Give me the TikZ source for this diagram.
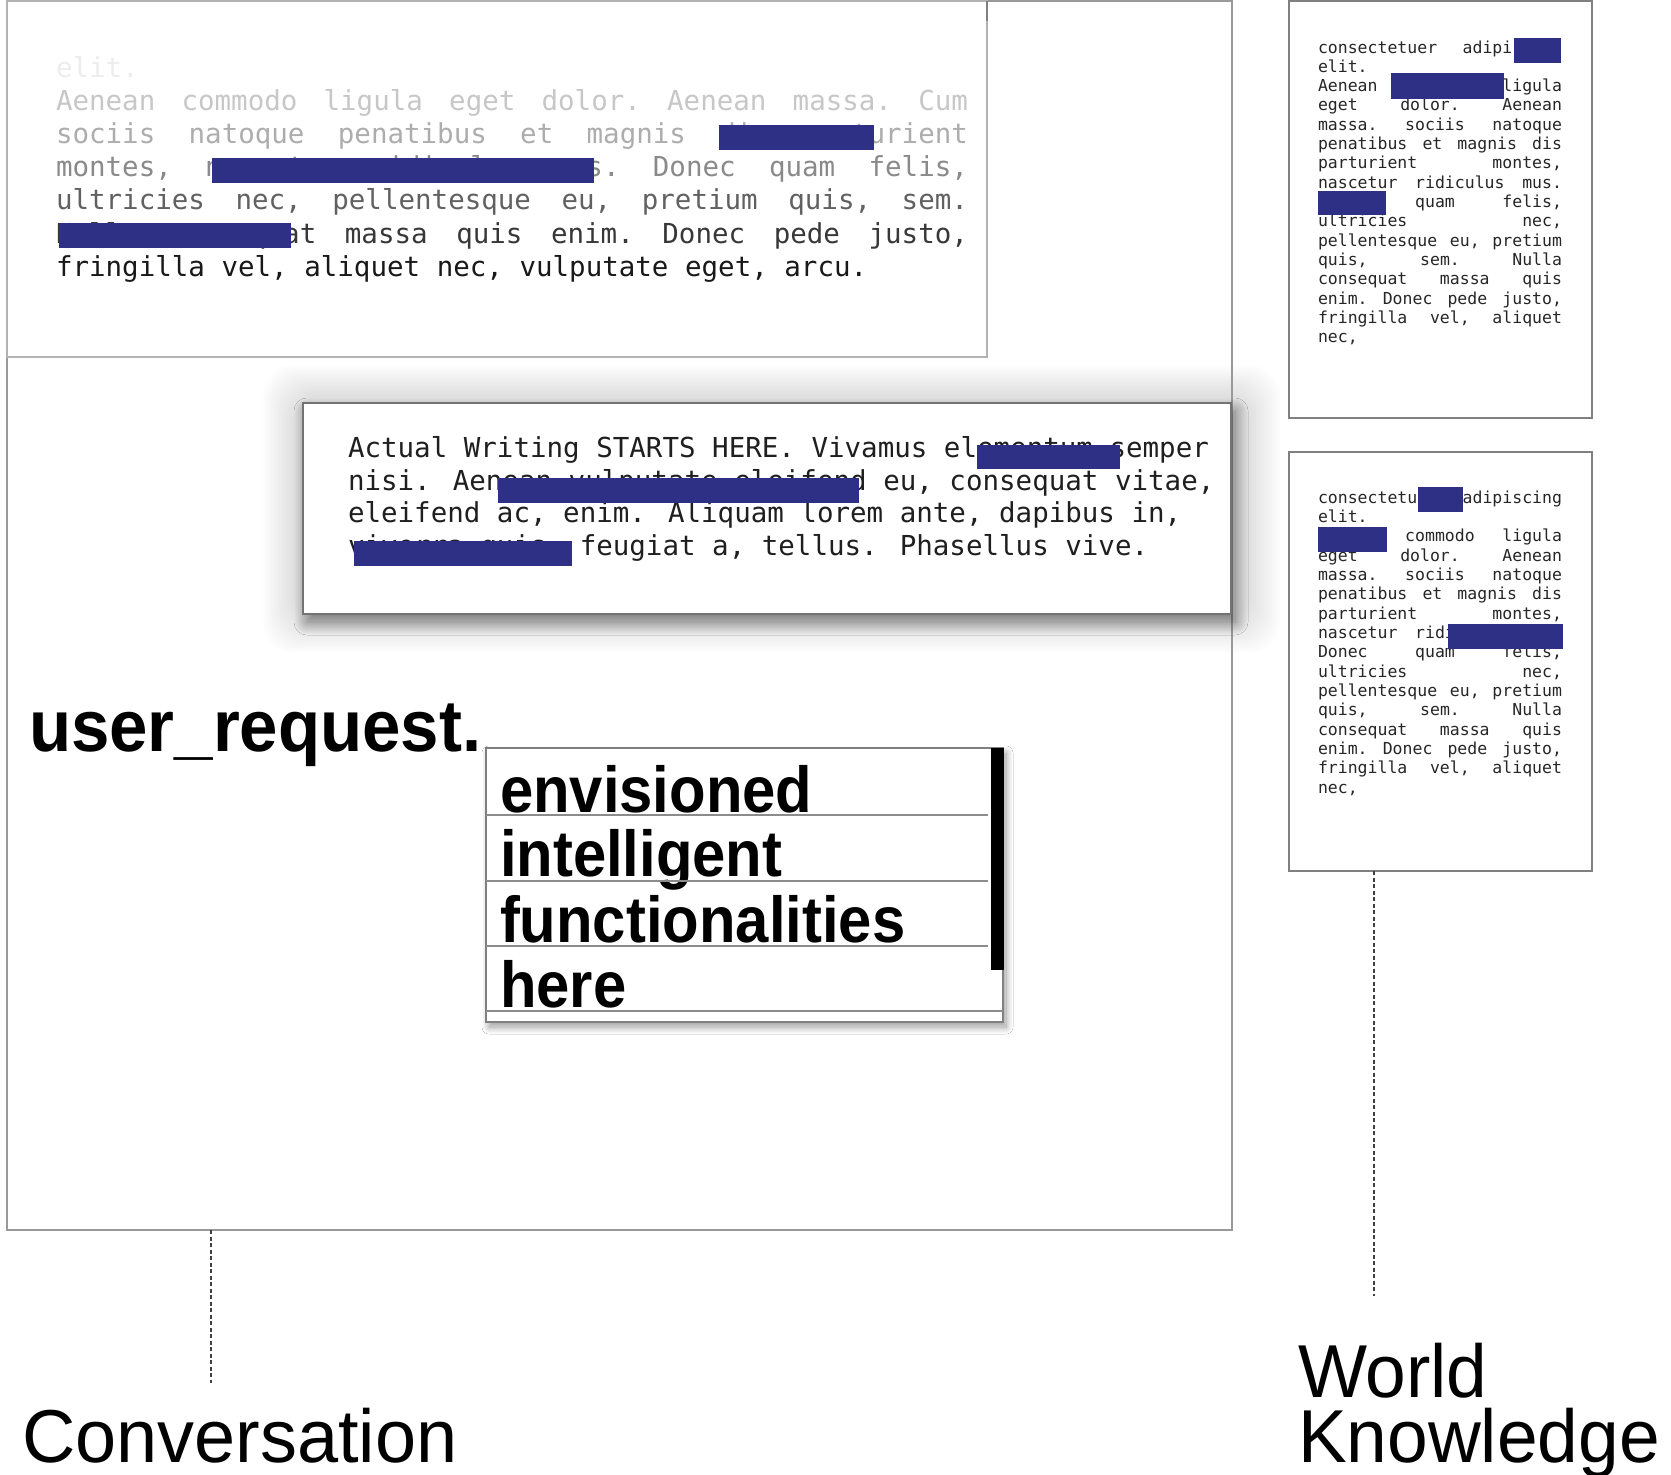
\documentclass[tikz,border=0pt]{standalone}
\usepackage{fontspec}
\usepackage{graphicx}
\usetikzlibrary{shadows.blur}

% Fonts
\newfontfamily\monofont{DejaVu Sans Mono}
\newfontfamily\labelfont[FakeStretch=0.985]{Liberation Sans}
\newfontfamily\wkfont[FakeStretch=0.975]{Liberation Sans}
\newfontfamily\reqfont[FakeStretch=0.945]{Liberation Sans}
\newfontfamily\itemfont[FakeStretch=0.92]{Liberation Sans}

\definecolor{redact}{RGB}{46,48,134}

% A line of text stretched to a given width (justified)
\newcommand\justline[2]{\hbox to #1{\frenchspacing\spaceskip=0.602em plus 1fil minus 0.2em\relax #2}}

% One knowledge document: 16 justified lines starting at baseline #2
\newcommand\docbody[2]{%
  \node[doctext] (#1-1)  at (1318,#2)          {\justline{244pt}{consectetuer adipiscing}};
  \node[doctext] (#1-2)  at (1318,#2+19.33)    {elit.};
  \node[doctext] (#1-3)  at (1318,#2+2*19.33)  {\justline{244pt}{Aenean commodo ligula}};
  \node[doctext] (#1-4)  at (1318,#2+3*19.33)  {\justline{244pt}{eget dolor. Aenean}};
  \node[doctext] (#1-5)  at (1318,#2+4*19.33)  {\justline{244pt}{massa. sociis natoque}};
  \node[doctext] (#1-6)  at (1318,#2+5*19.33)  {\justline{244pt}{penatibus et magnis dis}};
  \node[doctext] (#1-7)  at (1318,#2+6*19.33)  {\justline{244pt}{parturient montes,}};
  \node[doctext] (#1-8)  at (1318,#2+7*19.33)  {\justline{244pt}{nascetur ridiculus mus.}};
  \node[doctext] (#1-9)  at (1318,#2+8*19.33)  {\justline{244pt}{Donec quam felis,}};
  \node[doctext] (#1-10) at (1318,#2+9*19.33)  {\justline{244pt}{ultricies nec,}};
  \node[doctext] (#1-11) at (1318,#2+10*19.33) {\justline{244pt}{pellentesque eu, pretium}};
  \node[doctext] (#1-12) at (1318,#2+11*19.33) {\justline{244pt}{quis, sem. Nulla}};
  \node[doctext] (#1-13) at (1318,#2+12*19.33) {\justline{244pt}{consequat massa quis}};
  \node[doctext] (#1-14) at (1318,#2+13*19.33) {\justline{244pt}{enim. Donec pede justo,}};
  \node[doctext] (#1-15) at (1318,#2+14*19.33) {\justline{244pt}{fringilla vel, aliquet}};
  \node[doctext] (#1-16) at (1318,#2+15*19.33) {nec,};
}

\begin{document}
\begin{tikzpicture}[
  x=1pt, y=-1pt,
  txt/.style={anchor=base west, inner sep=0pt, outer sep=0pt},
  histtext/.style={txt, font=\monofont\fontsize{27.5}{33}\selectfont},
  writetext/.style={txt, text=black!88, font=\monofont\fontsize{27.5}{33}\selectfont},
  doctext/.style={txt, text=black!85, font=\monofont\fontsize{16.5}{19}\selectfont},
  itemtext/.style={txt, font=\itemfont\bfseries\fontsize{65}{70}\selectfont},
  caption/.style={txt, font=\labelfont\fontsize{75}{80}\selectfont},
  panel/.style={draw=black!40, line width=1.8pt, inner sep=0pt, outer sep=0pt, anchor=north west},
  docpanel/.style={draw=black!50, line width=1.8pt, fill=white, inner sep=0pt, outer sep=0pt, anchor=north west},
  bar/.style={fill=redact},
  rowsep/.style={draw=black!45, line width=1.8pt},
  leader/.style={draw=black!75, line width=1.3pt, dash pattern=on 4pt off 2.5pt},
  glow/.style={fill=black, opacity=0.006, rounded corners=30pt},
]
\useasboundingbox[fill=white] (0,0) rectangle (1671,1475);

% soft glow behind the writing box, built from stacked faint layers
\foreach \k in {0,...,15}
  \fill[glow] (263+2*\k,365+2*\k) rectangle (1280-2*\k,653-2*\k);

% conversation panel and the history area at its top
\node[panel, minimum width=1225pt, minimum height=1229pt] (conv) at (7,1) {};
\node[panel, draw=black!30, minimum width=980pt, minimum height=356pt] (history) at (7,1) {};
\draw[black!50, line width=2.2pt] (history.north east) -- ++(0,20);

% faded history text
\node[histtext, text=black!7]  (h0) at (56,77)  {elit.};
\node[histtext, text=black!22] (h1) at (56,110) {\justline{912pt}{Aenean commodo ligula eget dolor. Aenean massa. Cum}};
\node[histtext, text=black!32] (h2) at (56,143) {\justline{912pt}{sociis natoque penatibus et magnis dis parturient}};
\node[histtext, text=black!46] (h3) at (56,176) {\justline{912pt}{montes, nascetur ridiculus mus. Donec quam felis,}};
\node[histtext, text=black!62] (h4) at (56,209) {\justline{912pt}{ultricies nec, pellentesque eu, pretium quis, sem.}};
\node[histtext, text=black!78] (h5) at (56,243) {\justline{912pt}{Nulla consequat massa quis enim. Donec pede justo,}};
\node[histtext, text=black!90] (h6) at (56,276) {fringilla vel, aliquet nec, vulputate eget, arcu.};
\fill[bar] (719,125) rectangle (874,150);
\fill[bar] (212,158) rectangle (594,183);
\fill[bar] (59,223) rectangle (291,248);

% writing box
\node[docpanel, draw=black!55,
      blur shadow={shadow xshift=4pt, shadow yshift=-8pt, shadow blur radius=13pt, shadow opacity=50, shadow blur steps=30},
      minimum width=928pt, minimum height=211pt] (write) at (303,403) {};
\node[writetext] (w1) at (348,457) {Actual Writing STARTS HERE. Vivamus elementum semper};
\node[writetext] (w2) at (348,490) {nisi. Aenean vulputate eleifend eu, consequat vitae,};
\node[writetext] (w3) at (348,522.5) {eleifend ac, enim. Aliquam lorem ante, dapibus in,};
\node[writetext] (w4) at (348,555) {viverra quis, feugiat a, tellus. Phasellus vive.};
\fill[bar] (977,445) rectangle (1120,469);
\fill[bar] (498,478) rectangle (859,503);
\fill[bar] (354,541) rectangle (572,566);

% user request with suggestion list
\node[txt, font=\reqfont\bfseries\fontsize{73}{78}\selectfont] (req) at (29,751) {user\_request.};
\node[docpanel,
      blur shadow={shadow xshift=3pt, shadow yshift=-5pt, shadow blur radius=7pt, shadow opacity=40, shadow blur steps=20},
      minimum width=517pt, minimum height=274pt] (list) at (486,748) {};
\node[itemtext] (i1) at (500,812)  {envisioned};
\node[itemtext] (i2) at (500,876)  {intelligent};
\node[itemtext] (i3) at (500,942)  {functionalities};
\node[itemtext] (i4) at (500,1007) {here};
\draw[rowsep] (list.west |- 0,815)  -- (988,815);
\draw[rowsep] (list.west |- 0,881)  -- (988,881);
\draw[rowsep] (list.west |- 0,946)  -- (988,946);
\draw[rowsep] (list.west |- 0,1011) -- (list.east |- 0,1011);
\fill[black] (991,748) rectangle (1004,970);

% knowledge documents
\node[docpanel, minimum width=303pt, minimum height=417pt] (wk1) at (1289,1) {};
\docbody{d1}{53}
\fill[bar] (1514,38) rectangle (1561,63);
\fill[bar] (1391,73) rectangle (1504,99);
\fill[bar] (1318,191) rectangle (1386,215);

\node[docpanel, minimum width=303pt, minimum height=419pt] (wk2) at (1289,452) {};
\docbody{d2}{503.3}
\fill[bar] (1418,487) rectangle (1463,512);
\fill[bar] (1318,527) rectangle (1387,552);
\fill[bar] (1448,624) rectangle (1563,649);

% captions and their leaders
\coordinate (convTip) at (211,1383);
\coordinate (wkTip) at (1374,1296);
\draw[leader] (conv.south -| convTip) -- (convTip);
\draw[leader] (wk2.south -| wkTip) -- (wkTip);
\node[caption] (convLabel) at (22,1462) {Conversation};
\node[caption, font=\wkfont\fontsize{75}{80}\selectfont] (wkLabel) at (1298,1397)
  {\baselineskip=65pt\lineskiplimit=-200pt\lineskip=0pt\vtop{\hbox{World}\hbox{Knowledge}}};
\end{tikzpicture}
\end{document}
